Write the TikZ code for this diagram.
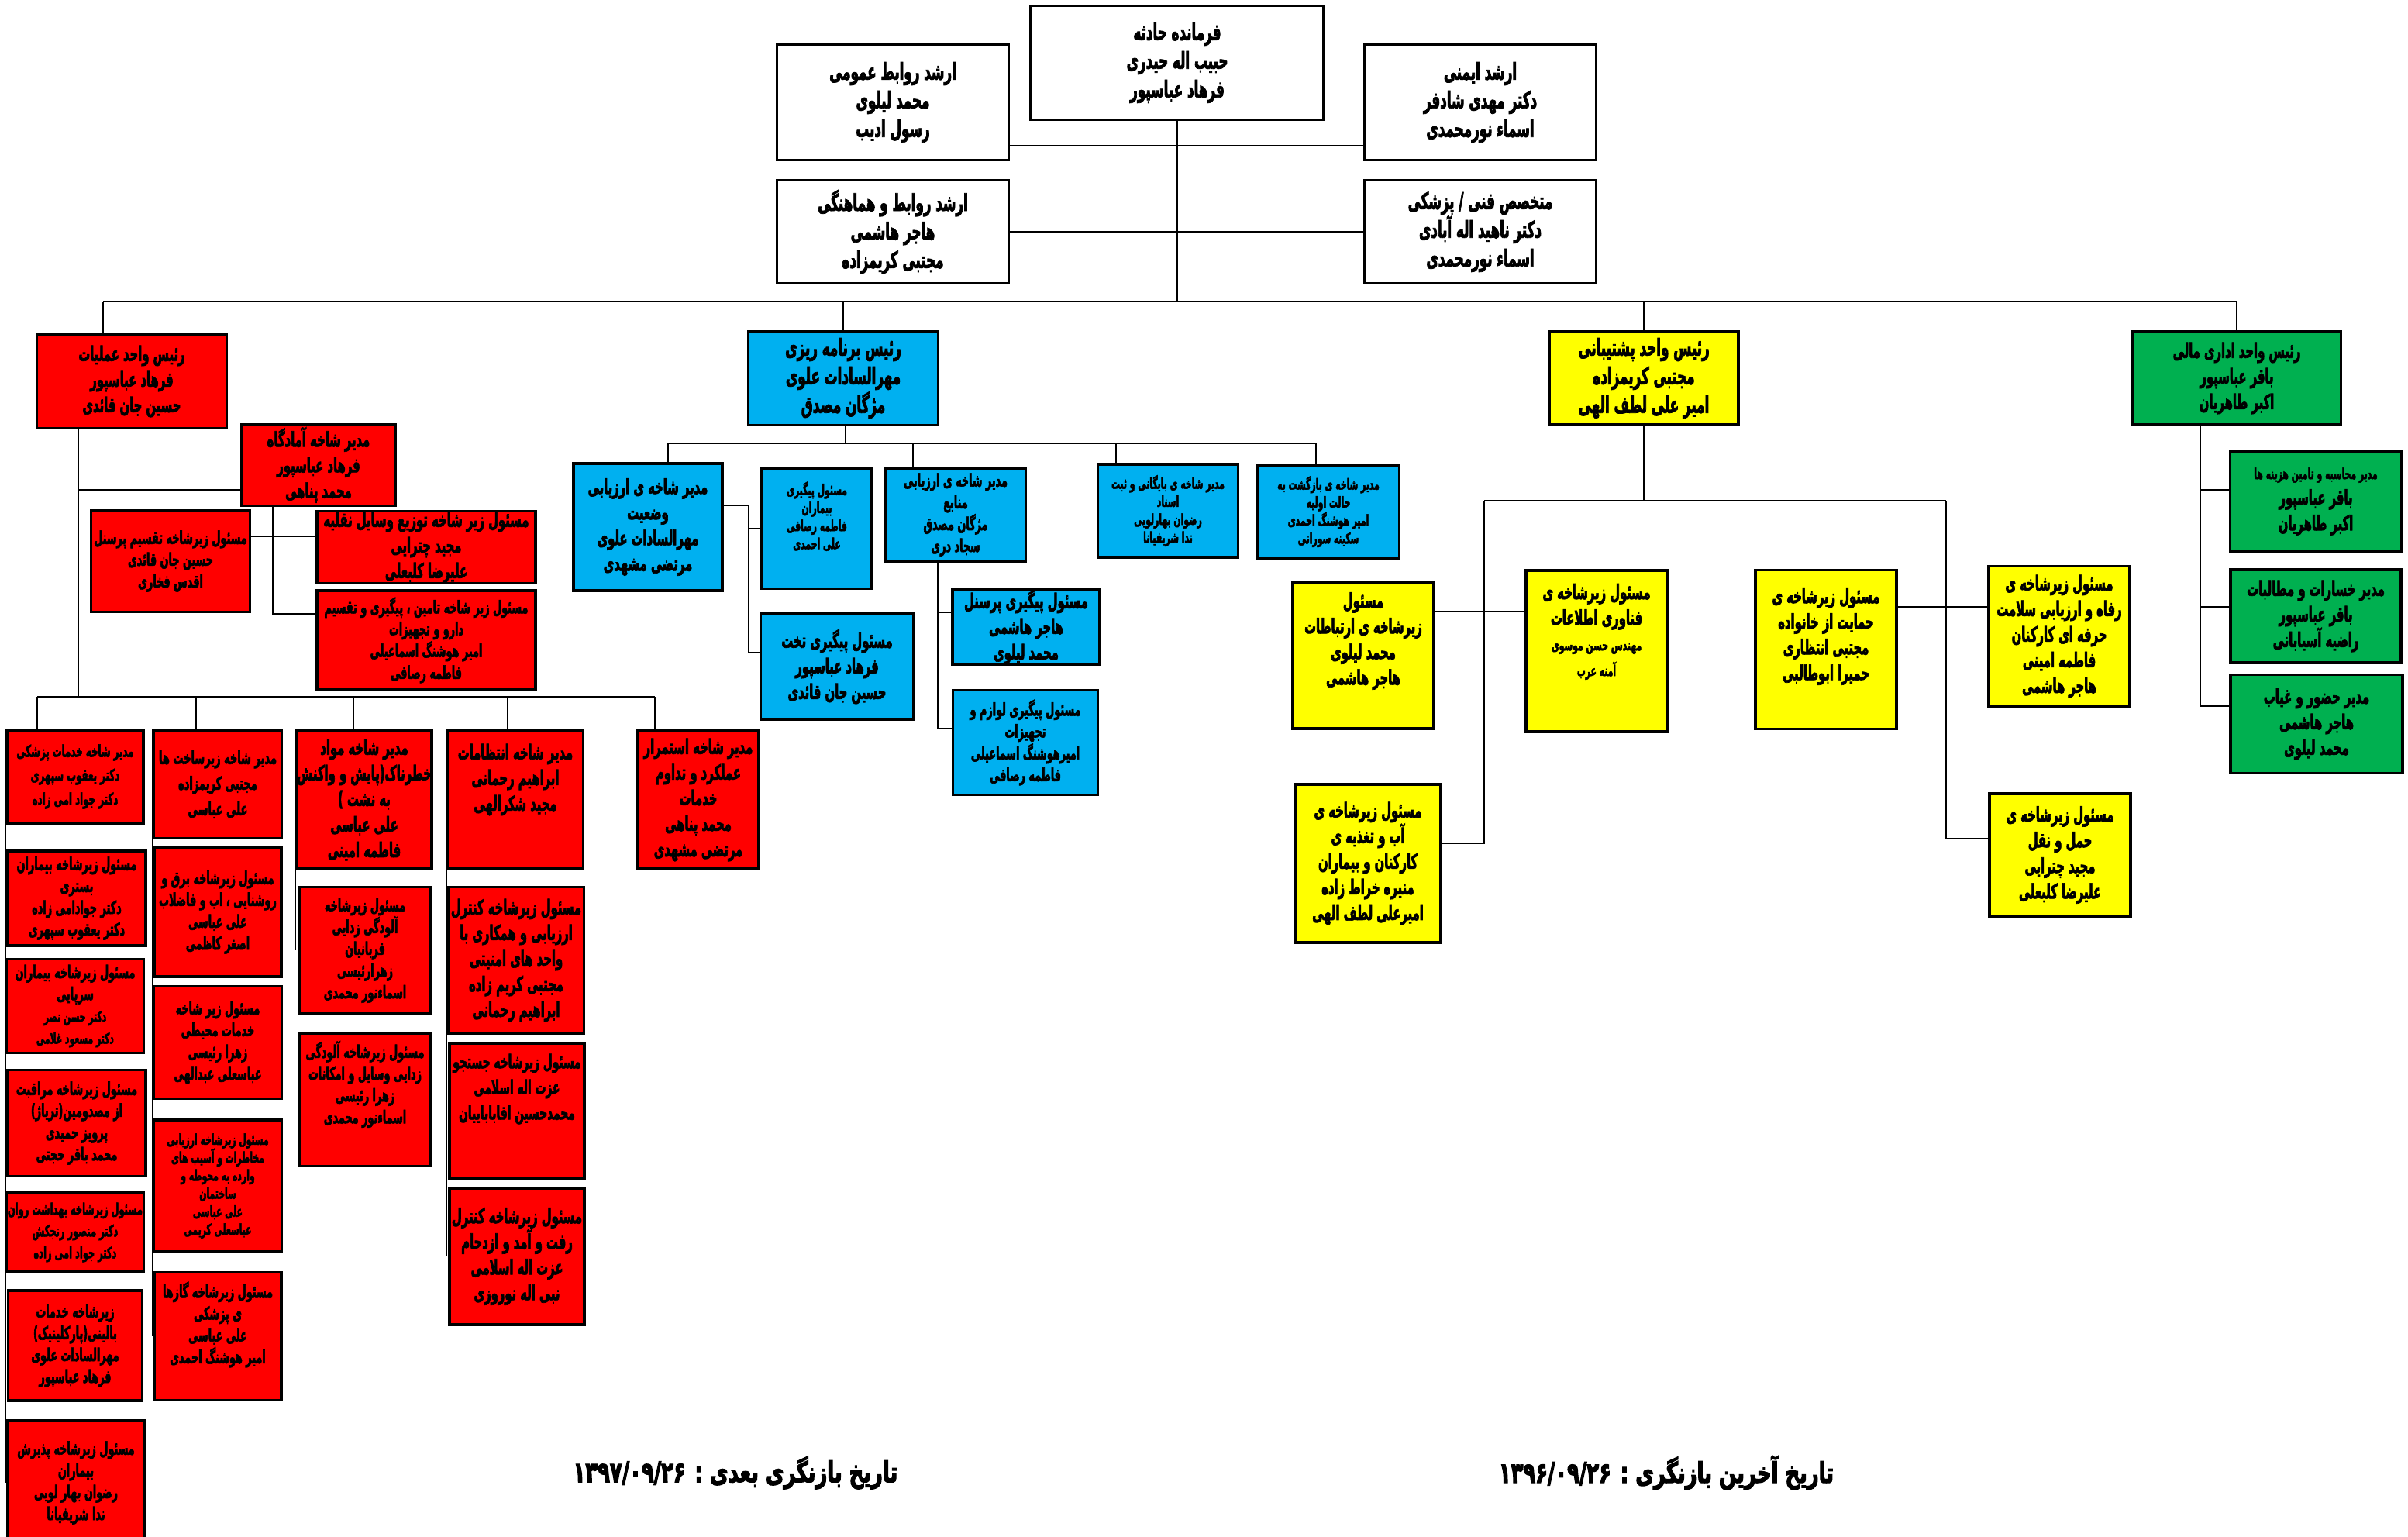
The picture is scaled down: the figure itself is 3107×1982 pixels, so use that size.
\documentclass[tikz,border=0pt]{standalone}
\usepackage{fontspec}
\usepackage{tikz}
\usetikzlibrary{backgrounds}
\newfontfamily\farsi[Script=Arabic,FakeStretch=0.56,BoldFeatures={FakeBold=2.5}]{DejaVu Sans}
\newfontfamily\farsiwide[Script=Arabic,FakeStretch=0.7,BoldFeatures={FakeBold=3}]{DejaVu Sans}
\TeXXeTstate=1
\newcommand{\fa}[1]{\beginR #1\endR}
\newcommand{\fasmall}[1]{{\fontsize{5.5}{6.6}\selectfont\beginR #1\endR}}
\definecolor{opred}{HTML}{FF0000}
\definecolor{planblue}{HTML}{00B0F0}
\definecolor{logyellow}{HTML}{FFFF00}
\definecolor{fingreen}{HTML}{00B050}
\tikzset{
  box/.style={draw=black, line width=0.9pt, inner sep=0pt, align=center,
    font=\farsi\bfseries\fontsize{7.5}{9.4}\selectfont},
  wbox/.style={box, fill=white},
  rbox/.style={box, fill=opred},
  bbox/.style={box, fill=planblue},
  ybox/.style={box, fill=logyellow},
  gbox/.style={box, fill=fingreen},
  big/.style={font=\farsi\bfseries\fontsize{8.5}{10.5}\selectfont},
  small/.style={font=\farsi\bfseries\fontsize{6.5}{8}\selectfont},
  tiny/.style={font=\farsi\bfseries\fontsize{5.5}{6.6}\selectfont},
  fsz/.style 2 args={font=\farsi\bfseries\fontsize{#1}{#2}\selectfont},
  lbl/.style={align=center, inner sep=0pt, font=\farsi\bfseries\fontsize{7.5}{9.4}\selectfont},
  sz/.style 2 args={minimum width=#1*0.01cm, minimum height=#2*0.01cm},
  link/.style={line width=0.8pt},
  datetxt/.style={inner sep=0pt, font=\farsiwide\bfseries\fontsize{10.5}{12}\selectfont}
}
\begin{document}
\begin{tikzpicture}[x=0.01cm, y=-0.01cm]
\useasboundingbox (0,0) rectangle (3107,1982);

% top
\node[wbox, big, sz={378}{147}] (cmd) at (1519,81)
  {\fa{فرمانده حادثه}\\\fa{حبیب اله حیدری}\\\fa{فرهاد عباسپور}};
\node[wbox, big, sz={299}{149}] (pr) at (1152,132)
  {\fa{ارشد روابط عمومی}\\\fa{محمد لیلوی}\\\fa{رسول ادیب}};
\node[wbox, big, sz={299}{149}] (safety) at (1910,132)
  {\fa{ارشد ایمنی}\\\fa{دکتر مهدی شادفر}\\\fa{اسماء نورمحمدی}};
\node[wbox, big, sz={299}{133}] (liaison) at (1152,299)
  {\fa{ارشد روابط و هماهنگی}\\\fa{هاجر هاشمی}\\\fa{مجتبی کریمزاده}};
\node[wbox, big, sz={299}{133}] (medtech) at (1910,299)
  {\fa{متخصص فنی / پزشکی}\\\fa{دکتر ناهید اله آبادی}\\\fa{اسماء نورمحمدی}};

% units
\node[rbox, sz={245}{121}] (ops) at (170,492)
  {\fa{رئیس واحد عملیات}\\\fa{فرهاد عباسپور}\\\fa{حسین جان قائدی}};
\node[bbox, big, sz={245}{121}] (plan) at (1088,488)
  {\fa{رئیس برنامه ریزی}\\\fa{مهرالسادات علوی}\\\fa{مژگان مصدق}};
\node[ybox, big, sz={244}{120}] (logi) at (2121,488)
  {\fa{رئیس واحد پشتیبانی}\\\fa{مجتبی کریمزاده}\\\fa{امیر علی لطف الهی}};
\node[gbox, sz={269}{120}] (fin) at (2886,488)
  {\fa{رئیس واحد اداری مالی}\\\fa{باقر عباسپور}\\\fa{اکبر طاهریان}};

% operations
\node[rbox, sz={198}{105}] (stage) at (411,600)
  {\fa{مدیر شاخه آمادگاه}\\\fa{فرهاد عباسپور}\\\fa{محمد پناهی}};
\node[rbox, small, sz={205}{131}] (pers) at (220,724)
  {\fa{مسئول زیرشاخه تقسیم پرسنل}\\\fa{حسین جان قائدی}\\\fa{اقدس فخاری}};
\node[rbox, sz={282}{89}] (veh) at (550,706)
  {\fa{مسئول زیر شاخه توزیع وسایل نقلیه}\\\fa{مجید چترایی}\\\fa{علیرضا کلبعلی}};
\node[rbox, small, sz={282}{128}] (drug) at (550,826)
  {\fa{مسئول زیر شاخه تامین ، پیگیری و تقسیم}\\\fa{دارو و تجهیزات}\\\fa{امیر هوشنگ اسماعیلی}\\\fa{فاطمه رصافی}};

% column 1
\node[rbox, fsz={6}{8.8}, sz={176}{120}] (medsvc) at (97,1002)
  {\fa{مدیر شاخه خدمات پزشکی}\\\fa{دکتر یعقوب سپهری}\\\fa{دکتر جواد امی زاده}};
\node[rbox, small, sz={178}{122}] (inpat) at (99,1159)
  {\fa{مسئول زیرشاخه بیماران}\\\fa{بستری}\\\fa{دکتر جوادامی زاده}\\\fa{دکتر یعقوب سپهری}};
\node[rbox, small, sz={177}{121}] (outpat) at (97,1298)
  {\fa{مسئول زیرشاخه بیماران}\\\fa{سرپایی}\\\fasmall{دکتر حسن نصر}\\\fasmall{دکتر مسعود غلامی}};
\node[rbox, small, sz={178}{137}] (triage) at (99,1449)
  {\fa{مسئول زیرشاخه مراقبت}\\\fa{از مصدومین(تریاژ)}\\\fa{پرویز حمیدی}\\\fa{محمد باقر حجتی}};
\node[rbox, fsz={5.8}{8}, sz={177}{102}] (mental) at (97,1590)
  {\fa{مسئول زیرشاخه بهداشت روان}\\\fa{دکتر منصور رنجکش}\\\fa{دکتر جواد امی زاده}};
\node[rbox, small, sz={173}{142}] (paraclin) at (97,1736)
  {\fa{زیرشاخه خدمات}\\\fa{بالینی(پارکلینیک)}\\\fa{مهرالسادات علوی}\\\fa{فرهاد عباسپور}};
\node[rbox, small, sz={177}{160}] (admit) at (98,1913)
  {\fa{مسئول زیرشاخه پذیرش}\\\fa{بیماران}\\\fa{رضوان بهار لویی}\\\fa{ندا شریفیانا}};

% column 2
\node[rbox, fsz={6.6}{9.4}, sz={165}{139}] (infra) at (281,1012)
  {\fa{مدیر شاخه زیرساخت ها}\\\fa{مجتبی کریمزاده}\\\fa{علی عباسی}};
\node[rbox, small, sz={164}{166}] (power) at (281,1177)
  {\fa{مسئول زیرشاخه برق و}\\\fa{روشنایی ، اب و فاضلاب}\\\fa{علی عباسی}\\\fa{اصغر کاظمی}};
\node[rbox, small, sz={165}{145}] (envir) at (281,1345)
  {\fa{مسئول زیر شاخه}\\\fa{خدمات محیطی}\\\fa{زهرا رئیسی}\\\fa{عباسعلی عبدالهی}};
\node[rbox, tiny, sz={165}{170}] (hazard) at (281,1530)
  {\fa{مسئول زیرشاخه  ارزیابی}\\\fa{مخاطرات و آسیب های}\\\fa{وارده به محوطه و}\\\fa{ساختمان}\\\fa{علی عباسی}\\\fa{عباسعلی کریمی}};
\node[rbox, sz={164}{165}] (gas) at (281,1724) {};
\node[lbl, small] (gas-t) at ([yshift=0.15cm]gas.center)
  {\fa{مسئول زیرشاخه گازها}\\\fa{ی پزشکی}\\\fa{علی عباسی}\\\fa{امیر هوشنگ احمدی}};

% column 3
\node[rbox, sz={170}{178}] (hazmat) at (470,1032)
  {\fa{مدیر شاخه مواد}\\\fa{خطرناک(پایش و واکنش}\\\fa{به نشت )}\\\fa{علی عباسی}\\\fa{فاطمه امینی}};
\node[rbox, small, sz={168}{163}] (decon1) at (471,1226)
  {\fa{مسئول زیرشاخه}\\\fa{آلودگی زدایی}\\\fa{قربانیان}\\\fa{زهرارئیسی}\\\fa{اسماءنور محمدی}};
\node[rbox, sz={168}{171}] (decon2) at (471,1419) {};
\node[lbl, small] (decon2-t) at ([yshift=0.2cm]decon2.center)
  {\fa{مسئول زیرشاخه آلودگی}\\\fa{زدایی وسایل و امکانات}\\\fa{زهرا رئیسی}\\\fa{اسماءنور محمدی}};

% column 4
\node[rbox, sz={175}{178}] (secur) at (665,1032) {};
\node[lbl] (secur-t) at ([yshift=0.26cm]secur.center)
  {\fa{مدیر شاخه انتظامات}\\\fa{ابراهیم رحمانی}\\\fa{مجید شکرالهی}};
\node[rbox, sz={175}{189}] (sctrl) at (666,1239)
  {\fa{مسئول زیرشاخه کنترل}\\\fa{ارزیابی و همکاری با}\\\fa{واحد های امنیتی}\\\fa{مجتبی کریم زاده}\\\fa{ابراهیم رحمانی}};
\node[rbox, sz={174}{174}] (search) at (667,1433) {};
\node[lbl, fsz={7}{9.4}] (search-t) at ([yshift=0.28cm]search.center)
  {\fa{مسئول زیرشاخه جستجو}\\\fa{عزت اله اسلامی}\\\fa{محمدحسین اقاباباییان}};
\node[rbox, sz={174}{176}] (crowd) at (667,1621)
  {\fa{مسئول زیرشاخه کنترل}\\\fa{رفت و آمد و ازدحام}\\\fa{عزت اله اسلامی}\\\fa{نبی اله نوروزی}};

% column 5
\node[rbox, sz={156}{178}] (contin) at (901,1032)
  {\fa{مدیر شاخه استمرار}\\\fa{عملکرد و تداوم}\\\fa{خدمات}\\\fa{محمد پناهی}\\\fa{مرتضی مشهدی}};

% planning
\node[bbox, sz={192}{164}] (sitev) at (836,680)
  {\fa{مدیر شاخه ی ارزیابی}\\\fa{وضعیت}\\\fa{مهرالسادات علوی}\\\fa{مرتضی مشهدی}};
\node[bbox, sz={142}{155}] (ptrack) at (1054,682) {};
\node[lbl, tiny] (ptrack-t) at ([yshift=0.16cm]ptrack.center)
  {\fa{مسئول پیگیری}\\\fa{بیماران}\\\fa{فاطمه رصافی}\\\fa{علی احمدی}};
\node[bbox, sz={197}{136}] (bedtrack) at (1080,860)
  {\fa{مسئول پیگیری تخت}\\\fa{فرهاد عباسپور}\\\fa{حسین جان قائدی}};
\node[bbox, small, sz={181}{120}] (resev) at (1233,664)
  {\fa{مدیر شاخه ی ارزیابی}\\\fa{منابع}\\\fa{مژگان مصدق}\\\fa{سجاد دری}};
\node[bbox, sz={190}{97}] (perstrack) at (1324,809)
  {\fa{مسئول پیگیری پرسنل}\\\fa{هاجر هاشمی}\\\fa{محمد لیلوی}};
\node[bbox, small, sz={187}{135}] (equip) at (1323,958)
  {\fa{مسئول پیگیری لوازم و}\\\fa{تجهیزات}\\\fa{امیرهوشنگ اسماعیلی}\\\fa{فاطمه رصافی}};
\node[bbox, tiny, sz={181}{120}] (archive) at (1507,659)
  {\fa{مدیر شاخه ی بایگانی و ثبت}\\\fa{اسناد}\\\fa{رضوان بهارلویی}\\\fa{ندا شریفیانا}};
\node[bbox, tiny, sz={183}{120}] (recovery) at (1714,660)
  {\fa{مدیر شاخه ی بازگشت به}\\\fa{حالت اولیه}\\\fa{امیر هوشنگ احمدی}\\\fa{سکینه سورانی}};

% logistics
\node[ybox, sz={182}{188}] (comm) at (1759,846) {};
\node[lbl] (comm-t) at ([yshift=0.19cm]comm.center)
  {\fa{مسئول}\\\fa{زیرشاخه ی ارتباطات}\\\fa{محمد لیلوی}\\\fa{هاجر هاشمی}};
\node[ybox, sz={182}{208}] (it) at (2060,840) {};
\node[lbl] (it-t) at ([yshift=0.25cm]it.center)
  {\fa{مسئول زیرشاخه ی}\\\fa{فناوری اطلاعات}\\\fasmall{مهندس حسن موسوی}\\\fasmall{آمنه عرب}};
\node[ybox, sz={188}{204}] (food) at (1765,1114)
  {\fa{مسئول زیرشاخه ی}\\\fa{آب و تغذیه ی}\\\fa{کارکنان و بیماران}\\\fa{منیره خراط زاده}\\\fa{امیرعلی لطف الهی}};
\node[ybox, sz={182}{205}] (family) at (2356,838) {};
\node[lbl] (family-t) at ([yshift=0.17cm]family.center)
  {\fa{مسئول زیرشاخه ی}\\\fa{حمایت از خانواده}\\\fa{مجتبی انتظاری}\\\fa{حمیرا ابوطالبی}};
\node[ybox, sz={182}{181}] (welfare) at (2657,821)
  {\fa{مسئول زیرشاخه ی}\\\fa{رفاه و ارزیابی سلامت}\\\fa{حرفه ای کارکنان}\\\fa{فاطمه امینی}\\\fa{هاجر هاشمی}};
\node[ybox, sz={182}{158}] (transp) at (2658,1103)
  {\fa{مسئول زیرشاخه ی}\\\fa{حمل و نقل}\\\fa{مجید چترایی}\\\fa{علیرضا کلبعلی}};

% finance
\node[gbox, sz={221}{130}] (acct) at (2988,647)
  {\fasmall{مدیر محاسبه و تامین هزینه ها}\\\fa{باقر عباسپور}\\\fa{اکبر طاهریان}};
\node[gbox, sz={220}{120}] (claims) at (2988,795)
  {\fa{مدیر خسارات و مطالبات}\\\fa{باقر عباسپور}\\\fa{راضیه آسیابانی}};
\node[gbox, sz={222}{127}] (attend) at (2989,934)
  {\fa{مدیر حضور و غیاب}\\\fa{هاجر هاشمی}\\\fa{محمد لیلوی}};

% dates
\node[datetxt] (nextrev) at (949,1900)
  {\fa{تاریخ بازنگری بعدی : \beginL۱۳۹۷/۰۹/۲۶\endL}};
\node[datetxt] (lastrev) at (2150,1900)
  {\fa{تاریخ آخرین بازنگری :  \beginL۱۳۹۶/۰۹/۲۶\endL}};

% connectors
\begin{scope}[on background layer, link]
  \coordinate (bus) at (1516,389);
  \coordinate (tie) at (1516,188);
  \coordinate (opstop) at (133,389);
  \draw (cmd.south) -- (cmd.south |- bus);
  \draw (pr.east |- tie) -- (safety.west |- tie);
  \draw (liaison.east) -- (medtech.west);
  \draw (opstop) -- (fin.north |- bus);
  \draw (opstop) -- (opstop |- ops.north);
  \foreach \u in {plan,logi,fin} \draw (\u.north |- bus) -- (\u.north);

  % operations
  \coordinate (opsleg) at (101,899);
  \coordinate (stj) at (101,632);
  \coordinate (stleg) at (352,692);
  \coordinate (stleg2) at (352,792);
  \draw (opsleg |- ops.south) -- (opsleg);
  \draw (stj) -- (stj -| stage.west);
  \draw (stleg |- stage.south) -- (stleg2) -- (stleg2 -| drug.west);
  \draw (stleg -| pers.east) -- (stleg -| veh.west);
  \coordinate (s1) at (48,899);
  \coordinate (s2) at (253,899);
  \coordinate (s3) at (456,899);
  \coordinate (s4) at (655,899);
  \coordinate (s5) at (845,899);
  \draw (s1) -- (s5);
  \foreach \s/\b in {s1/medsvc,s2/infra,s3/hazmat,s4/secur,s5/contin}
    \draw (\s) -- (\s |- \b.north);
  \foreach \a/\b in {medsvc/admit,infra/gas,hazmat/decon1,secur/crowd}
    \draw (\a.north west) -- (\a.north west |- \b.west);

  % planning
  \coordinate (pj) at (1091,572);
  \coordinate (p1) at (862,572);
  \coordinate (p2) at (1178,572);
  \coordinate (p3) at (1440,572);
  \coordinate (p4) at (1698,572);
  \draw (plan.south -| pj) -- (pj);
  \draw (p1) -- (p4);
  \foreach \p/\b in {p1/sitev,p2/resev,p3/archive,p4/recovery}
    \draw (\p) -- (\p |- \b.north);
  \coordinate (sj) at (966,652);
  \coordinate (sj2) at (966,842);
  \draw (sj -| sitev.east) -- (sj) -- (sj2) -- (sj2 -| bedtrack.west);
  \draw (sj |- ptrack.west) -- (ptrack.west);
  \coordinate (rj) at (1210,790);
  \coordinate (rj2) at (1210,940);
  \draw (rj |- resev.south) -- (rj2) -- (rj2 -| equip.west);
  \draw (rj) -- (rj -| perstrack.west);

  % logistics
  \coordinate (yl) at (1915,646);
  \coordinate (yr) at (2511,646);
  \coordinate (yj) at (1915,789);
  \coordinate (yf) at (1915,1088);
  \coordinate (yk) at (2511,783);
  \coordinate (yt) at (2511,1082);
  \draw (logi.south) -- (logi.south |- yl);
  \draw (yl) -- (yr);
  \draw (yj -| comm.east) -- (yj -| it.west);
  \draw (yl) -- (yf) -- (yf -| food.east);
  \draw (yk -| family.east) -- (yk -| welfare.west);
  \draw (yr) -- (yt) -- (yt -| transp.west);

  % finance
  \coordinate (gj) at (2839,911);
  \coordinate (ga) at (2839,632);
  \coordinate (gc) at (2839,783);
  \draw (gj |- fin.south) -- (gj) -- (gj -| attend.west);
  \draw (ga) -- (ga -| acct.west);
  \draw (gc) -- (gc -| claims.west);
\end{scope}
\end{tikzpicture}
\end{document}
